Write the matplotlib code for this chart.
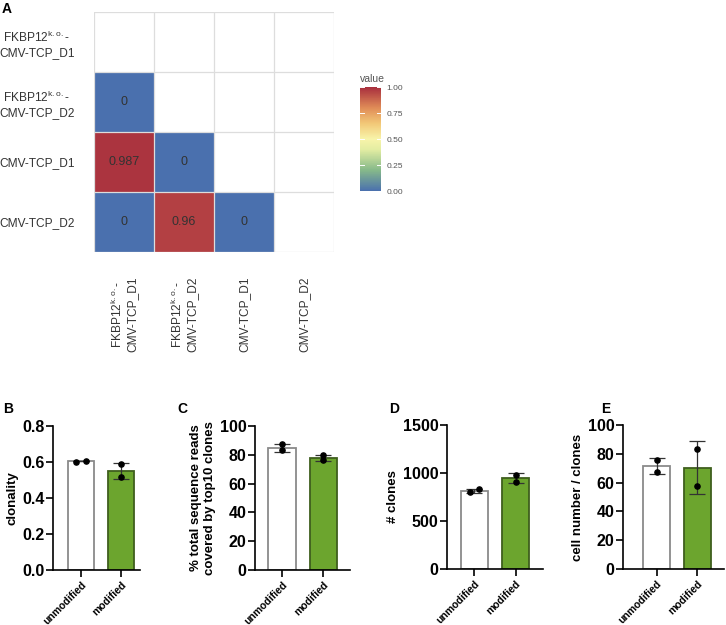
import numpy as np
import matplotlib
matplotlib.use("Agg")
import matplotlib.pyplot as plt
from matplotlib.colors import LinearSegmentedColormap

plt.rcParams['font.family'] = ['Liberation Sans', 'DejaVu Sans']
plt.rcParams['mathtext.fontset'] = 'custom'
plt.rcParams['mathtext.rm'] = 'Liberation Sans'

# heatmap data (lower triangle)
ko = r"FKBP12$^{\mathrm{k{.}o{.}}}$-"
samples = [ko + "\nCMV-TCP_D1", ko + "\nCMV-TCP_D2", "CMV-TCP_D1", "CMV-TCP_D2"]
overlap = np.array([[np.nan, np.nan, np.nan, np.nan],
                    [0.0, np.nan, np.nan, np.nan],
                    [0.987, 0.0, np.nan, np.nan],
                    [0.0, 0.96, 0.0, np.nan]])
overlap_text = [[None, None, None, None],
                ["0", None, None, None],
                ["0.987", "0", None, None],
                ["0", "0.96", "0", None]]

groups = ["unmodified", "modified"]

clon_mean = [0.603, 0.552]
clon_sd = [0.0, 0.045]
clon_pts = [[0.600, 0.606], [0.587, 0.518]]

top10_mean = [84.7, 78.0]
top10_sd = [3.0, 2.1]
top10_pts = [[87.2, 83.1], [79.6, 76.4]]

clones_mean = [815, 944]
clones_sd = [21, 52]
clones_pts = [[800, 830], [977, 911]]

cpc_mean = [71.5, 70.4]
cpc_sd = [5.8, 18.2]
cpc_pts = [[75.6, 67.5], [83.3, 57.5]]

cmap = LinearSegmentedColormap.from_list("ovl", [
    (0.0, '#4A70AE'), (0.2, '#86B98A'), (0.4, '#E3EDA2'), (0.5, '#F8F4AA'),
    (0.65, '#F2C877'), (0.8, '#E08C57'), (1.0, '#A82E3E')])

W, H = 726, 625
fig = plt.figure(figsize=(7.26, 6.25), dpi=100)

def ax_px(x0, y0, x1, y1):
    return fig.add_axes([x0 / W, 1 - y1 / H, (x1 - x0) / W, (y1 - y0) / H])

# ---- panel A heatmap
ax = ax_px(94, 12, 334, 252)
m = np.ma.masked_invalid(overlap)
im = ax.pcolormesh(np.arange(5), np.arange(5), m, cmap=cmap, vmin=0, vmax=1,
                   edgecolors='none')
ax.set_xlim(0, 4)
ax.set_ylim(4, 0)
for k in range(5):
    ax.axhline(k, color='#DDDDDD', lw=0.9, zorder=3)
    ax.axvline(k, color='#DDDDDD', lw=0.9, zorder=3)
for i in range(4):
    for j in range(4):
        if overlap_text[i][j] is not None:
            ax.text(j + 0.5, i + 0.5, overlap_text[i][j], ha='center', va='center',
                    fontsize=9, color='#333333')
for s in ax.spines.values():
    s.set_visible(False)
ax.set_xticks(np.arange(4) + 0.5)
ax.set_yticks(np.arange(4) + 0.5)
ax.set_xticklabels(samples, rotation=90, fontsize=8.6, color='#333333',
                   ha='center', va='top', multialignment='center')
ax.set_yticklabels(samples, fontsize=8.6, color='#333333', multialignment='center')
ax.tick_params(axis='both', length=0)
ax.tick_params(axis='x', pad=18)
ax.tick_params(axis='y', pad=14)
fig.text(2 / W, 1 - 9 / H, "A", fontsize=10, fontweight='bold', va='center')

cax = ax_px(360, 87, 381, 191)
cb = fig.colorbar(im, cax=cax, ticks=[0, 0.25, 0.5, 0.75, 1.0])
cb.outline.set_visible(False)
cb.ax.set_yticklabels(["0.00", "0.25", "0.50", "0.75", "1.00"])
cb.ax.tick_params(labelsize=6, colors='#555555', length=0, pad=4)
for t in [0, 0.25, 0.5, 0.75, 1.0]:
    cb.ax.plot([0, 0.2], [t, t], color='white', lw=0.7, transform=cb.ax.get_yaxis_transform())
    cb.ax.plot([0.8, 1.0], [t, t], color='white', lw=0.7, transform=cb.ax.get_yaxis_transform())
fig.text(360 / W, 1 - 79 / H, "value", fontsize=7.5, color='#555555', va='center')

# ---- bar panels
def bar_panel(px, letter, lxy, means, sds, pts, offs, ylim, yticks, ylabel, xlim, tickfmt):
    a = ax_px(*px)
    x = np.arange(2)
    a.bar(x, means, width=0.66, color=['white', '#6CA52E'],
          edgecolor=['#8A8A8A', '#3F5F1E'], linewidth=1.3, zorder=2)
    a.errorbar(x, means, yerr=sds, fmt='none', ecolor='#333333', elinewidth=0.9,
               capsize=6, capthick=0.9, zorder=3)
    for i in range(2):
        a.scatter([i + o for o in offs[i]], pts[i], s=14, color='black', zorder=4)
    a.set_xlim(*xlim)
    a.set_ylim(*ylim)
    a.set_yticks(yticks)
    a.set_yticklabels([tickfmt(v) for v in yticks], fontsize=11.5, fontweight='bold')
    a.set_xticks(x)
    a.set_xticklabels(groups, rotation=45, ha='right', rotation_mode='anchor',
                      fontsize=7.5, fontweight='bold')
    a.set_ylabel(ylabel, fontsize=9.5, fontweight='bold', labelpad=3)
    for s in ['top', 'right']:
        a.spines[s].set_visible(False)
    for s in ['left', 'bottom']:
        a.spines[s].set_linewidth(1.2)
    a.tick_params(axis='y', width=1.2, length=5, pad=1)
    a.tick_params(axis='x', width=1.2, length=5, pad=2)
    fig.text(lxy[0] / W, 1 - lxy[1] / H, letter, fontsize=10, fontweight='bold', va='center')
    return a

bar_panel((53, 426, 140, 570), "B", (3, 409), clon_mean, clon_sd, clon_pts,
          [[-0.12, 0.12], [0, 0]], (0, 0.8), [0, 0.2, 0.4, 0.6, 0.8], "clonality",
          (-0.7, 1.47), lambda v: f"{v:.1f}")
bar_panel((255, 426, 350, 570), "C", (177, 409), top10_mean, top10_sd, top10_pts,
          [[0, 0], [0, 0]], (0, 100), [0, 20, 40, 60, 80, 100],
          "% total sequence reads\ncovered by top10 clones",
          (-0.65, 1.64), lambda v: f"{v:.0f}")
bar_panel((447, 425, 543, 569), "D", (389, 409), clones_mean, clones_sd, clones_pts,
          [[-0.11, 0.11], [0, 0]], (0, 1500), [0, 500, 1000, 1500], "# clones",
          (-0.67, 1.67), lambda v: f"{v:.0f}")
bar_panel((623, 425, 724, 569), "E", (601, 409), cpc_mean, cpc_sd, cpc_pts,
          [[0, 0], [0, 0]], (0, 100), [0, 20, 40, 60, 80, 100], "cell number / clones",
          (-0.82, 1.65), lambda v: f"{v:.0f}")

fig.savefig("out.png", dpi=100)
